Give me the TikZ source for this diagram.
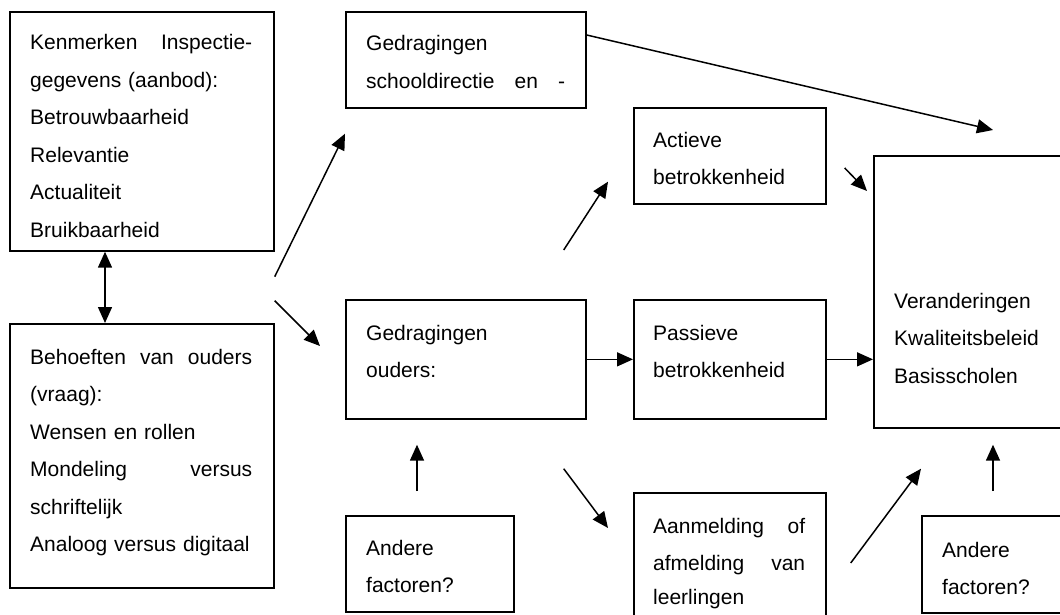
\documentclass[tikz,border=0pt]{standalone}
\usepackage{fontspec}
\setmainfont{Liberation Sans}
\usetikzlibrary{arrows.meta}
\begin{document}
\begin{tikzpicture}[x=1pt,y=-1pt,
  box/.style={draw, line width=1.7pt, rectangle, inner sep=0pt, anchor=north west},
  txt/.style={anchor=base west, inner sep=0pt, align=left,
    font=\fontsize{21}{37.5}\selectfont},
  arr/.style={line width=1.5pt, -{Triangle[length=16pt,width=14pt]}},
  darr/.style={line width=1.5pt, {Triangle[length=16pt,width=14pt]}-{Triangle[length=16pt,width=14pt]}}]
\useasboundingbox (0,0) rectangle (1060,615);
\fill[white] (0,0) rectangle (1060,615);
\clip (0,0) rectangle (1060,615);

% boxes
\node[box, minimum width=264pt, minimum height=239pt] (k) at (9,11) {};
\node[box, minimum width=264pt, minimum height=264pt] (b) at (9,323) {};
\node[box, minimum width=240pt, minimum height=96pt] (gs) at (345,11) {};
\node[box, minimum width=192pt, minimum height=96pt] (act) at (633,107) {};
\node[box, minimum width=240pt, minimum height=119pt] (go) at (345,299) {};
\node[box, minimum width=192pt, minimum height=119pt] (pas) at (633,299) {};
\node[box, minimum width=210pt, minimum height=272pt] (V) at (873,155) {};
\node[box, minimum width=168pt, minimum height=96pt] (an1) at (345,515) {};
\node[box, minimum width=192pt, minimum height=140pt] (aa) at (633,492) {};
\node[box, minimum width=160pt, minimum height=97pt] (an2) at (921,515) {};

% texts
\node[txt, text width=222pt] (kt) at (30,50) {Kenmerken\hfill Inspectie-\\gegevens (aanbod):\\Betrouwbaarheid\\Relevantie\\Actualiteit\\Bruikbaarheid};
\node[txt, text width=222pt] (bt) at (30,364) {Behoeften\hfill van\hfill ouders\\(vraag):\\Wensen en rollen\\Mondeling\hfill versus\\schriftelijk\\Analoog versus digitaal};
\node[txt, text width=199pt] (gst) at (366,51) {Gedragingen\\schooldirectie\hfill en\hfill -};
\node[txt, text width=160pt] (actt) at (653,147) {Actieve\\betrokkenheid};
\node[txt, text width=200pt] (got) at (366,340) {Gedragingen\\ouders:};
\node[txt, text width=160pt] (past) at (653,340) {Passieve\\betrokkenheid};
\node[txt, text width=170pt] (Vt) at (894,308) {Veranderingen\\Kwaliteitsbeleid\\Basisscholen};
\node[txt, text width=130pt] (an1t) at (366,555) {Andere\\factoren?};
\node[txt, text width=152pt] (aat) at (653,533) {Aanmelding\hfill of\\afmelding\hfill van\\[-4pt]leerlingen};
\node[txt, text width=110pt] (an2t) at (942,557) {Andere\\factoren?};

% connectors
\draw[darr] ([xshift=96pt]k.south west) -- ([xshift=96pt]b.north west);
\draw[arr] ([yshift=-25pt]k.south east) -- ([yshift=-25pt]gs.south west);
\draw[arr] ([yshift=-49pt]k.south east) -- ([xshift=-25pt,yshift=-47pt]go.north west);
\draw[arr] ([yshift=-24pt]gs.north east) -- ([xshift=120pt,yshift=25pt]V.north west);
\draw[arr] ([xshift=-23pt,yshift=49pt]go.north east) -- ([xshift=-25pt,yshift=23pt]act.south west);
\draw[arr] ([xshift=18pt,yshift=-61pt]act.north east) -- ([xshift=-6pt,yshift=-36pt]V.north west);
\draw[arr] (go.east) -- (pas.west);
\draw[arr] (pas.east) -- (pas.east -| V.west);
\draw[arr] ([xshift=72pt,yshift=24pt]an1.north west) -- ([xshift=72pt,yshift=-25pt]go.south west);
\draw[arr] ([xshift=-23pt,yshift=-49pt]go.south east) -- ([xshift=-25pt,yshift=-36pt]aa.north west);
\draw[arr] ([xshift=24pt,yshift=-71pt]aa.north east) -- ([xshift=48pt,yshift=-40pt]V.south west);
\draw[arr] ([xshift=72pt,yshift=24pt]an2.north west) -- ([xshift=120pt,yshift=-16pt]V.south west);
\end{tikzpicture}
\end{document}
